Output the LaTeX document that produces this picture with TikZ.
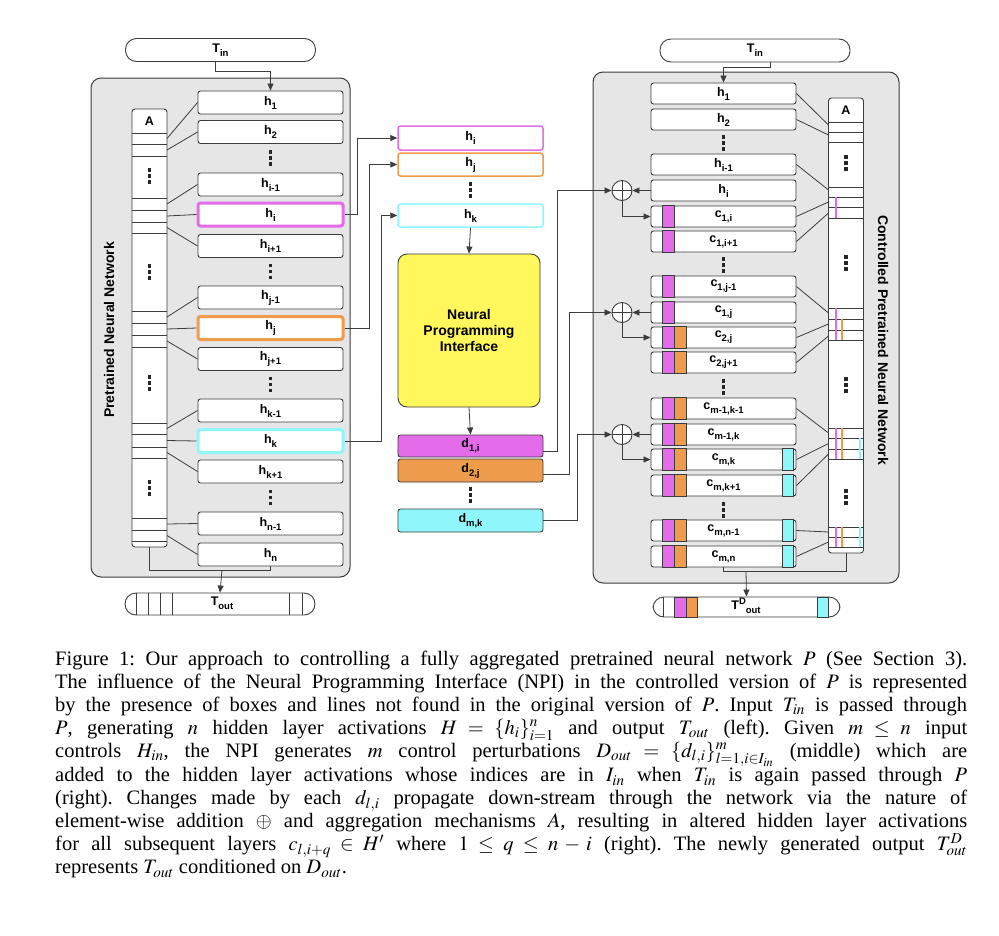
\documentclass[tikz,border=0pt]{standalone}
\usepackage{mathptmx}
\usepackage{fontspec}
\setmainfont{Liberation Serif}
\newfontfamily\labfont{Liberation Sans}
\usetikzlibrary{arrows.meta,calc}
\definecolor{mag}{HTML}{E46CEB}
\definecolor{org}{HTML}{EE9B4B}
\definecolor{cyn}{HTML}{8FF7FB}
\definecolor{yel}{HTML}{FFF75C}
\definecolor{pgray}{HTML}{E6E6E6}
\definecolor{edge}{HTML}{3C3C3C}
\newcommand\sbs[1]{\raisebox{-4pt}{\fontsize{9.5}{9.5}\selectfont #1}}
\newcommand\sps[1]{\raisebox{5pt}{\fontsize{9.5}{9.5}\selectfont #1}}
\tikzset{
  lab/.style={font=\labfont\bfseries\fontsize{12.5}{13}\selectfont},
  hb/.style={draw=edge, line width=0.9pt, fill=white, rounded corners=2.5pt, minimum width=145pt, minimum height=23pt, inner sep=0pt, lab},
  rb/.style={hb, minimum height=21pt},
  pill/.style={draw=edge, line width=0.9pt, fill=white, rounded corners=11pt, minimum width=190pt, minimum height=23pt, inner sep=0pt, lab},
  panel/.style={draw=edge, line width=1pt, fill=pgray, rounded corners=10pt},
  acol/.style={draw=edge, line width=0.9pt, fill=white, rounded corners=3pt, minimum width=35pt, inner sep=0pt},
  cn/.style={draw=edge, line width=0.8pt},
  arr/.style={cn, -{Triangle[length=7pt,width=6pt]}},
  opl/.style={circle, draw=edge, line width=0.9pt, fill=white, minimum size=20pt, inner sep=0pt},
  strp/.style={draw=edge, line width=0.7pt},
  vd/.pic={\foreach \d in {-6,0,6} \fill[black!85] (-1.6,\d-1.6) rectangle ++(3.2,3.2);},
  rotlab/.style={font=\labfont\bfseries\fontsize{14}{14}\selectfont, inner sep=0pt},
}
\begin{document}
\begin{tikzpicture}[x=1pt,y=-1pt]
\useasboundingbox (0,0) rectangle (999,935);
\fill[white] (0,0) rectangle (999,935);

% ================= LEFT =================
\draw[panel] (91,78) rectangle (350,577);
\node[pill] (tinL) at (220.5,50) {T\sbs{in}};
\node[rotlab, rotate=90] (labL) at (109,330) {Pretrained Neural Network};

\node[hb] (l1)  at (270.5,102.5) {h\sbs{1}};
\node[hb] (l2)  at (270.5,132)   {h\sbs{2}};
\node[hb] (li1) at (270.5,184.5) {h\sbs{i-1}};
\node[hb, draw=mag, line width=3pt] (li)  at (270.5,214.5) {h\sbs{i}};
\node[hb] (lip) at (270.5,246)   {h\sbs{i+1}};
\node[hb] (lj1) at (270.5,297.5) {h\sbs{j-1}};
\node[hb, draw=org, line width=3pt] (lj)  at (270.5,328)   {h\sbs{j}};
\node[hb] (ljp) at (270.5,359)   {h\sbs{j+1}};
\node[hb] (lk1) at (270.5,410.5) {h\sbs{k-1}};
\node[hb, draw=cyn, line width=3pt] (lk)  at (270.5,441)   {h\sbs{k}};
\node[hb] (lkp) at (270.5,471.5) {h\sbs{k+1}};
\node[hb] (ln1) at (270.5,523.5) {h\sbs{n-1}};
\node[hb] (lnn) at (270.5,554.5) {h\sbs{n}};
\pic at (270.5,158) {vd};
\pic at (270.5,271.5) {vd};
\pic at (270.5,384.5) {vd};
\pic at (270.5,497.5) {vd};

% aggregation column
\node[acol, minimum height=438pt] (AL) at (149.5,328) {};
\node[lab, inner sep=0pt] (ALa) at (149.5,121) {A};
\foreach \y in {133,144,156,198,210,222,233,311,323,335,347,423,434,447,458,518,530,541}
  \draw[cn] (132,\y) -- (167,\y);
\pic at (149.5,176) {vd};
\pic at (149.5,272) {vd};
\pic at (149.5,383) {vd};
\pic at (149.5,488) {vd};

\foreach \n/\y in {l1/138.5,l2/150,li1/204,li/216,lip/227.5,lj1/317,lj/329,ljp/341,lk1/428.5,lk/440.5,lkp/452.5,ln1/524,lnn/535.5}{
  \coordinate (aL-\n) at (167,\y);
  \draw[cn] (\n.west) -- (aL-\n);
}

\draw[arr] ([xshift=-5.5pt]tinL.south) -- ++(0,9) -| (l1.north);

\node[pill, minimum height=22pt] (toutL) at (220,604) {};
\foreach \x in {136,148,160,172,289,302}
  \draw[cn] (\x,593) -- (\x,615);
\node[lab, inner sep=0pt] (toutLt) at (222,603) {T\sbs{out}};
\coordinate (jL) at (222,570);
\draw[cn] (AL.south) |- (lnn.south |- jL) -- (lnn.south);
\draw[arr] (jL) -- (toutL.north);

% ================= MIDDLE =================
\node[hb, minimum height=24pt, draw=mag, line width=1.5pt] (mi) at (470.5,138)   {h\sbs{i}};
\node[hb, minimum height=23pt, draw=org, line width=1.5pt] (mj) at (470.5,164.5) {h\sbs{j}};
\node[hb, minimum height=23pt, draw=cyn, line width=1.5pt] (mk) at (470.5,215.5) {h\sbs{k}};
\pic at (470.5,190) {vd};
\node[draw=edge, line width=0.9pt, fill=yel, rounded corners=9pt, minimum width=142pt, minimum height=153pt, align=center,
      font=\labfont\bfseries\fontsize{14}{16}\selectfont] (npi) at (469,330.5) {Neural\\Programming\\Interface};
\node[hb, minimum height=22pt, fill=mag] (d1) at (470.5,446)   {d\sbs{1,i}};
\node[hb, minimum height=23pt, fill=org] (d2) at (470.5,470.5) {d\sbs{2,j}};
\node[hb, minimum height=23pt, fill=cyn] (dm) at (470.5,520.5) {d\sbs{m,k}};
\pic at (470.5,495) {vd};

\draw[arr] (li.east) -- ++(13,0) |- (mi.west);
\draw[arr] (lj.east) -- ++(25,0) |- (mj.west);
\draw[arr] (lk.east) -- ++(37,0) |- (mk.west);
\draw[arr] (mk.south) -- (npi.north);
\draw[arr] (npi.south) -- (d1.north);

% ================= RIGHT =================
\draw[panel] (593,72) rectangle (899,583);
\node[pill] (tinR) at (755,50.5) {T\sbs{in}};
\node[rotlab, rotate=-90] (labR) at (883,340) {Controlled Pretrained Neural Network};

\node[rb] (r1)   at (723.5,93.5)  {h\sbs{1}};
\node[rb] (r2)   at (723.5,119.5) {h\sbs{2}};
\node[rb] (ri1)  at (723.5,164.5) {h\sbs{i-1}};
\node[rb] (ri)   at (723.5,190.5) {h\sbs{i}};
\node[rb] (c1i)  at (723.5,216.5) {c\sbs{1,i}};
\node[rb] (c1ip) at (723.5,241.5) {c\sbs{1,i+1}};
\node[rb] (c1j1) at (723.5,286.5) {c\sbs{1,j-1}};
\node[rb] (c1j)  at (723.5,312.5) {c\sbs{1,j}};
\node[rb] (c2j)  at (723.5,337.5) {c\sbs{2,j}};
\node[rb] (c2jp) at (723.5,362.5) {c\sbs{2,j+1}};
\node[rb] (cmk1) at (723.5,408.5) {c\sbs{m-1,k-1}};
\node[rb] (cmk0) at (723.5,434.5) {c\sbs{m-1,k}};
\node[rb] (cmk)  at (723.5,459.5) {c\sbs{m,k}};
\node[rb] (cmkp) at (723.5,485.5) {c\sbs{m,k+1}};
\node[rb] (cmn1) at (723.5,530.5) {c\sbs{m,n-1}};
\node[rb] (cmn)  at (723.5,556.5) {c\sbs{m,n}};
\pic at (723.5,143) {vd};
\pic at (723.5,265) {vd};
\pic at (723.5,387) {vd};
\pic at (723.5,510) {vd};

\foreach \b in {c1i,c1ip,c1j1,c1j,c2j,c2jp,cmk1,cmk0,cmk,cmkp,cmn1,cmn}
  \draw[strp, fill=mag] ($(\b.north west)+(12,0)$) rectangle ($(\b.south west)+(24,0)$);
\foreach \b in {c2j,c2jp,cmk1,cmk0,cmk,cmkp,cmn1,cmn}
  \draw[strp, fill=org] ($(\b.north west)+(24,0)$) rectangle ($(\b.south west)+(36,0)$);
\foreach \b in {cmk,cmkp,cmn1,cmn}
  \draw[strp, fill=cyn] ($(\b.north east)+(-14,0)$) rectangle ($(\b.south east)+(-3,0)$);

% right aggregation column
\node[acol, minimum height=455pt] (AR) at (846,325.5) {};
\node[lab, inner sep=0pt] (ARa) at (846,110) {A};
\foreach \y in {122,132,142,187,197,207,218,308,319,330,340,428,438,449,459,527,537,547}
  \draw[cn] (828.5,\y) -- (863.5,\y);
\draw[mag, line width=2pt] (836,197) -- (836,218);
\draw[mag, line width=2pt] (836,308) -- (836,340);
\draw[org, line width=2pt] (842,319) -- (842,340);
\draw[mag, line width=2pt] (836,428) -- (836,459);
\draw[org, line width=2pt] (842,428) -- (842,459);
\draw[cyn, line width=2pt] (860,438) -- (860,459);
\draw[mag, line width=2pt] (836,527) -- (836,547);
\draw[org, line width=2pt] (842,527) -- (842,547);
\draw[cyn, line width=2pt] (860,527) -- (860,547);
\pic at (846,163) {vd};
\pic at (846,263) {vd};
\pic at (846,385) {vd};
\pic at (846,497) {vd};

\foreach \n/\y in {r1/125,r2/135,ri1/190,c1i/202,c1ip/213,c1j1/313,c2j/324,c2jp/336,cmk1/433,cmk/443.5,cmkp/454,cmn1/532,cmn/542}{
  \coordinate (aR-\n) at (828.5,\y);
  \draw[cn] (\n.east) -- (aR-\n);
}

% oplus nodes
\node[opl] (op1) at (622,190.5) {};
\node[opl] (op2) at (622,312.5) {};
\node[opl] (op3) at (622,434.5) {};
\foreach \o in {op1,op2,op3}{
  \draw[cn] (\o.north) -- (\o.south);
  \draw[cn] (\o.west) -- (\o.east);
}
\draw[arr] (ri.west) -- (op1.east);
\draw[arr] (c1j.west) -- (op2.east);
\draw[arr] (cmk0.west) -- (op3.east);
\draw[arr] (op1.south) |- (c1i.west);
\draw[arr] (op2.south) |- (c2j.west);
\draw[arr] (op3.south) |- (cmk.west);
\draw[arr] ([yshift=-5pt]d1.east) -- ++(14,0) |- (op1.west);
\draw[arr] ([yshift=-4pt]d2.east) -- ++(26,0) |- (op2.west);
\draw[arr] (dm.east) -- ++(34,0) |- (op3.west);

\draw[arr] ([xshift=15pt]tinR.south) -- ++(0,5) -| (r1.north);

\node[pill, minimum width=187pt, minimum height=20pt] (toutR) at (746.5,607) {};
\draw[cn] (663,597) -- (663,617);
\draw[strp, fill=mag] (674,597) rectangle (686,617);
\draw[strp, fill=org] (686,597) rectangle (697,617);
\draw[strp, fill=cyn] (817,597) rectangle (828,617);
\node[lab, inner sep=0pt] (toutRt) at (746,606) {T\sps{D}\sbs{out}};
\coordinate (jR) at (746,571);
\draw[cn] (AR.south) |- (cmn.south |- jR) -- (cmn.south);
\draw[arr] (jR) -- (toutR.north);

% ================= CAPTION =================
\node[anchor=north west, inner sep=0pt, text width=912pt, align=justify,
      font=\fontsize{20.5}{23}\selectfont] (cap) at (55,649) {\frenchspacing\noindent\strut
Figure 1: Our approach to controlling a fully aggregated pretrained neural network $P$ (See Section 3).\linebreak
The influence of the Neural Programming Interface (NPI) in the controlled version of $P$ is represented\linebreak
by the presence of boxes and lines not found in the original version of $P$. Input $T_{in}$ is passed through\linebreak
$P$, generating $n$ hidden layer activations $H=\{h_i\}_{i=1}^{n}$ and output $T_{out}$ (left). Given $m\leq n$ input\linebreak
controls $H_{in}$, the NPI generates $m$ control perturbations $D_{out}=\{d_{l,i}\}_{l=1,i\in I_{in}}^{m}$ (middle) which are\linebreak
added to the hidden layer activations whose indices are in $I_{in}$ when $T_{in}$ is again passed through $P$\linebreak
(right). Changes made by each $d_{l,i}$ propagate down-stream through the network via the nature of\linebreak
element-wise addition $\oplus$ and aggregation mechanisms $A$, resulting in altered hidden layer activations\linebreak
for all subsequent layers $c_{l,i+q}\in H'$ where $1\leq q\leq n-i$ (right). The newly generated output $T^{D}_{out}$\linebreak
represents $T_{out}$ conditioned on $D_{out}$.};
\end{tikzpicture}
\end{document}
